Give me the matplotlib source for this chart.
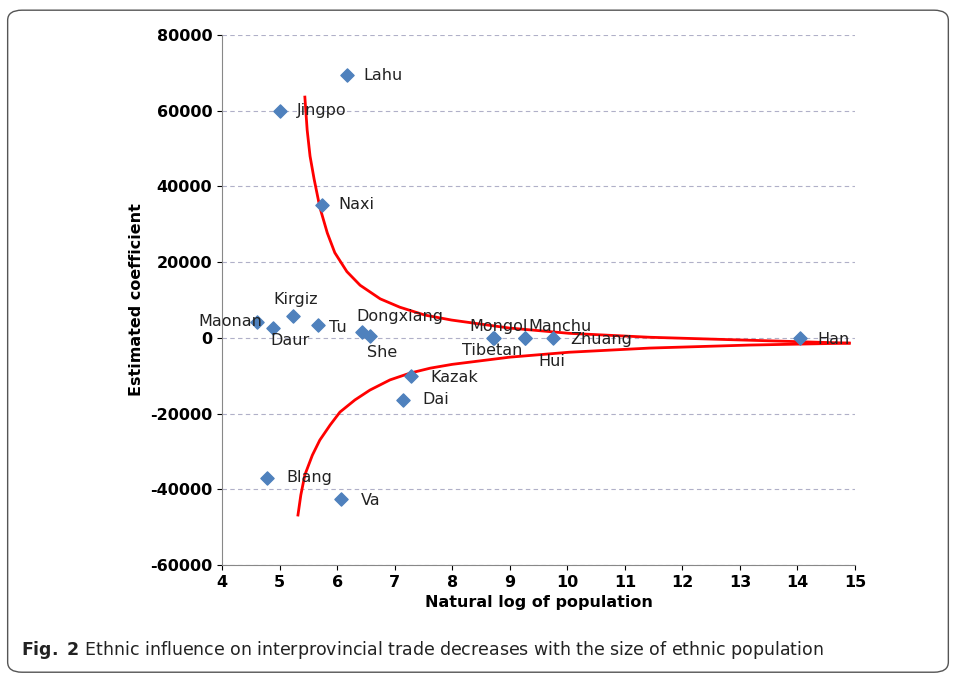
import matplotlib
matplotlib.use("Agg")
import matplotlib.pyplot as plt
from matplotlib.patches import FancyBboxPatch

names = ["Lahu", "Jingpo", "Naxi", "Kirgiz", "Maonan", "Daur", "Tu", "Dongxiang", "She",
         "Mongol", "Tibetan", "Manchu", "Hui", "Zhuang", "Han", "Kazak", "Dai", "Blang", "Va"]
log_pop = [6.17, 5.01, 5.74, 5.23, 4.61, 4.89, 5.67, 6.43, 6.57,
           8.73, 8.71, 9.27, 9.26, 9.76, 14.05, 7.29, 7.15, 4.78, 6.07]
coef = [69400, 60000, 35100, 5800, 4200, 2600, 3400, 1500, 500,
        0, 0, 0, 0, 0, 0, -10100, -16400, -37000, -42600]
# label offsets in points (dx, dy)
offsets = {"Lahu": (12, 0), "Jingpo": (12, 0), "Naxi": (12, 0),
           "Kirgiz": (-14, 12), "Maonan": (-42, 0), "Daur": (-2, -9),
           "Tu": (8, -2), "Dongxiang": (-4, 11), "She": (-2, -12),
           "Mongol": (-18, 8), "Tibetan": (-22, -9), "Manchu": (2, 8),
           "Hui": (10, -17), "Zhuang": (12, -1), "Han": (12, -1),
           "Kazak": (14, -1), "Dai": (14, 0), "Blang": (14, 0), "Va": (14, -1)}

upper_x = [5.44, 5.48, 5.53, 5.60, 5.70, 5.83, 5.96, 6.17, 6.40, 6.75, 7.09, 7.53, 7.99,
           8.99, 10.03, 11.43, 13.17, 14.9]
upper_y = [63600, 54900, 48000, 42000, 34500, 27700, 22500, 17500, 13900, 10300, 8100, 6000, 4700,
           2600, 1200, 160, -630, -1400]
lower_x = [5.32, 5.37, 5.44, 5.57, 5.70, 5.88, 6.05, 6.31, 6.57, 6.92, 7.27, 7.62, 8.0,
           9.0, 10.03, 11.43, 13.17, 14.9]
lower_y = [-46800, -41500, -36200, -31000, -27000, -23000, -19600, -16400, -13800, -11100, -9300,
           -8000, -7000, -5100, -3800, -2700, -1900, -1400]

fig = plt.figure(figsize=(9.56, 6.79), dpi=100)
fig.patches.append(FancyBboxPatch((0.008, 0.01), 0.984, 0.975, boxstyle="round,pad=0,rounding_size=0.015",
                                  transform=fig.transFigure, fill=False, ec="#555555", lw=1))
ax = fig.add_axes([222/956, 1-565/679, (855-222)/956, (565-35)/679])

ax.scatter(log_pop, coef, marker="D", s=45, color="#4f81bd", zorder=3)
ax.plot(upper_x, upper_y, color="red", lw=2, zorder=2, solid_joinstyle="round")
ax.plot(lower_x, lower_y, color="red", lw=2, zorder=2, solid_joinstyle="round")
for n, x, y in zip(names, log_pop, coef):
    dx, dy = offsets[n]
    ax.annotate(n, (x, y), xytext=(dx, dy), textcoords="offset points", ha="left", va="center",
                fontsize=11.5, color="#222222")

ax.set_xlim(4, 15)
ax.set_ylim(-60000, 80000)
ax.set_xticks(range(4, 16))
ax.set_yticks(range(-60000, 80001, 20000))
ax.set_yticklabels([str(v) for v in range(-60000, 80001, 20000)])
ax.yaxis.grid(True, ls=(0, (4, 3)), color="#b0b0c8", lw=0.8)
for s in ["top", "right"]:
    ax.spines[s].set_visible(False)
ax.spines["left"].set_color("#888888")
ax.spines["bottom"].set_color("#888888")
ax.tick_params(labelsize=11.5)
for lab in ax.get_xticklabels() + ax.get_yticklabels():
    lab.set_fontweight("bold")
ax.set_xlabel("Natural log of population", fontsize=11.5, fontweight="bold")
ax.set_ylabel("Estimated coefficient", fontsize=11.5, fontweight="bold")

fig.text(0.022, 0.035, r"$\bf{Fig.\ 2}$ Ethnic influence on interprovincial trade decreases with the size of ethnic population",
         fontsize=12.5, color="#222222")
fig.savefig("out.png", dpi=100)
